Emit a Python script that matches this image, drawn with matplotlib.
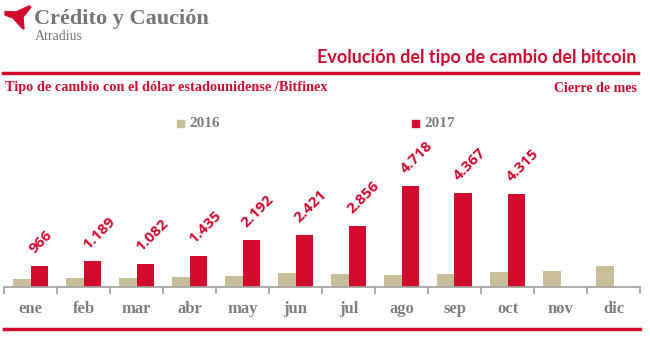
import matplotlib.pyplot as plt
from matplotlib.patches import Polygon
import numpy as np

meses = ['ene', 'feb', 'mar', 'abr', 'may', 'jun', 'jul', 'ago', 'sep', 'oct', 'nov', 'dic']
v2016 = [368, 437, 416, 448, 531, 673, 624, 575, 609, 700, 742, 963]
v2017 = [966, 1189, 1082, 1435, 2192, 2421, 2856, 4718, 4367, 4315]
etiquetas = ['966', '1.189', '1.082', '1.435', '2.192', '2.421', '2.856', '4.718', '4.367', '4.315']

ROJO = '#d20a2e'
BEIGE = '#c8bf98'
GRIS = '#7f7f7f'

W, H = 650, 337
fig = plt.figure(figsize=(6.5, 3.37), dpi=100)

def fx(px):
    return px / W

def fy(py):
    return 1 - py / H

# ejes: de x=4 a 640 px, base en y=287
ax = fig.add_axes([fx(4), fy(287), fx(636), (287 - 100) / H])
x = np.arange(len(meses))
bw = 0.33
ax.bar(x - bw / 2, v2016, bw, color=BEIGE, label='2016')
ax.bar(x[:len(v2017)] + bw / 2, v2017, bw, color=ROJO, label='2017')
ax.set_xlim(-0.5, len(meses) - 0.5)
ax.set_ylim(0, 187 * 46.5)

for i, v in enumerate(v2017):
    ax.annotate(etiquetas[i], (x[i], v), xytext=(4.5, 7), textcoords='offset points',
                rotation=45, rotation_mode='anchor', ha='left', va='bottom',
                color=ROJO, fontsize=11, fontweight='bold', family='Open Sans')

for s in ['top', 'right', 'left']:
    ax.spines[s].set_visible(False)
ax.spines['bottom'].set_color('#a0a0a0')
ax.spines['bottom'].set_linewidth(1.2)
ax.set_yticks([])
ax.set_xticks(np.arange(-0.5, len(meses)), minor=False)
ax.set_xticklabels([])
ax.tick_params(axis='x', length=5, color='#a0a0a0', width=1.2)
for i, m in enumerate(meses):
    ax.text(x[i], -0.12, m, transform=ax.get_xaxis_transform(), ha='center', va='center',
            color=GRIS, fontsize=12, fontweight='bold', family='Liberation Serif')

# leyenda
fig.patches.append(plt.Rectangle((fx(177), fy(127)), fx(7), 7 / H, color=BEIGE, transform=fig.transFigure))
fig.text(fx(189), fy(123), '2016', color=GRIS, fontsize=11, fontweight='bold',
         family='Liberation Serif', va='center')
fig.patches.append(plt.Rectangle((fx(412), fy(127)), fx(7), 7 / H, color=ROJO, transform=fig.transFigure))
fig.text(fx(424), fy(123), '2017', color=GRIS, fontsize=11, fontweight='bold',
         family='Liberation Serif', va='center')

# cabecera
logo = [(5, 11.5), (16, 12), (29, 6), (31, 7), (23, 17), (24, 29), (22, 28), (13, 18), (5, 15)]
fig.patches.append(Polygon([(fx(a), fy(b)) for a, b in logo], closed=True, color=ROJO,
                           transform=fig.transFigure))
fig.text(fx(34), fy(19), 'Crédito y Caución', color='#777777', fontsize=16, fontweight='bold',
         family='Liberation Serif', va='center')
fig.text(fx(35), fy(37), 'Atradius', color='#777777', fontsize=10,
         family='Liberation Serif', va='center')
fig.text(fx(636), fy(58), 'Evolución del tipo de cambio del bitcoin', color=ROJO, fontsize=13,
         fontweight='bold', family='Lato', ha='right', va='center')
fig.add_artist(plt.Line2D([fx(3), fx(638)], [fy(73), fy(73)], color=ROJO, lw=2.5))
fig.text(fx(5), fy(88), 'Tipo de cambio con el dólar estadounidense /Bitfinex', color=ROJO,
         fontsize=10.3, fontweight='bold', family='Liberation Serif', va='center')
fig.text(fx(637), fy(88), 'Cierre de mes', color=ROJO, fontsize=10, fontweight='bold',
         family='Liberation Serif', ha='right', va='center')
fig.add_artist(plt.Line2D([fx(4), fx(640)], [fy(329), fy(329)], color=ROJO, lw=2.5))

fig.savefig('out.png', dpi=100)
